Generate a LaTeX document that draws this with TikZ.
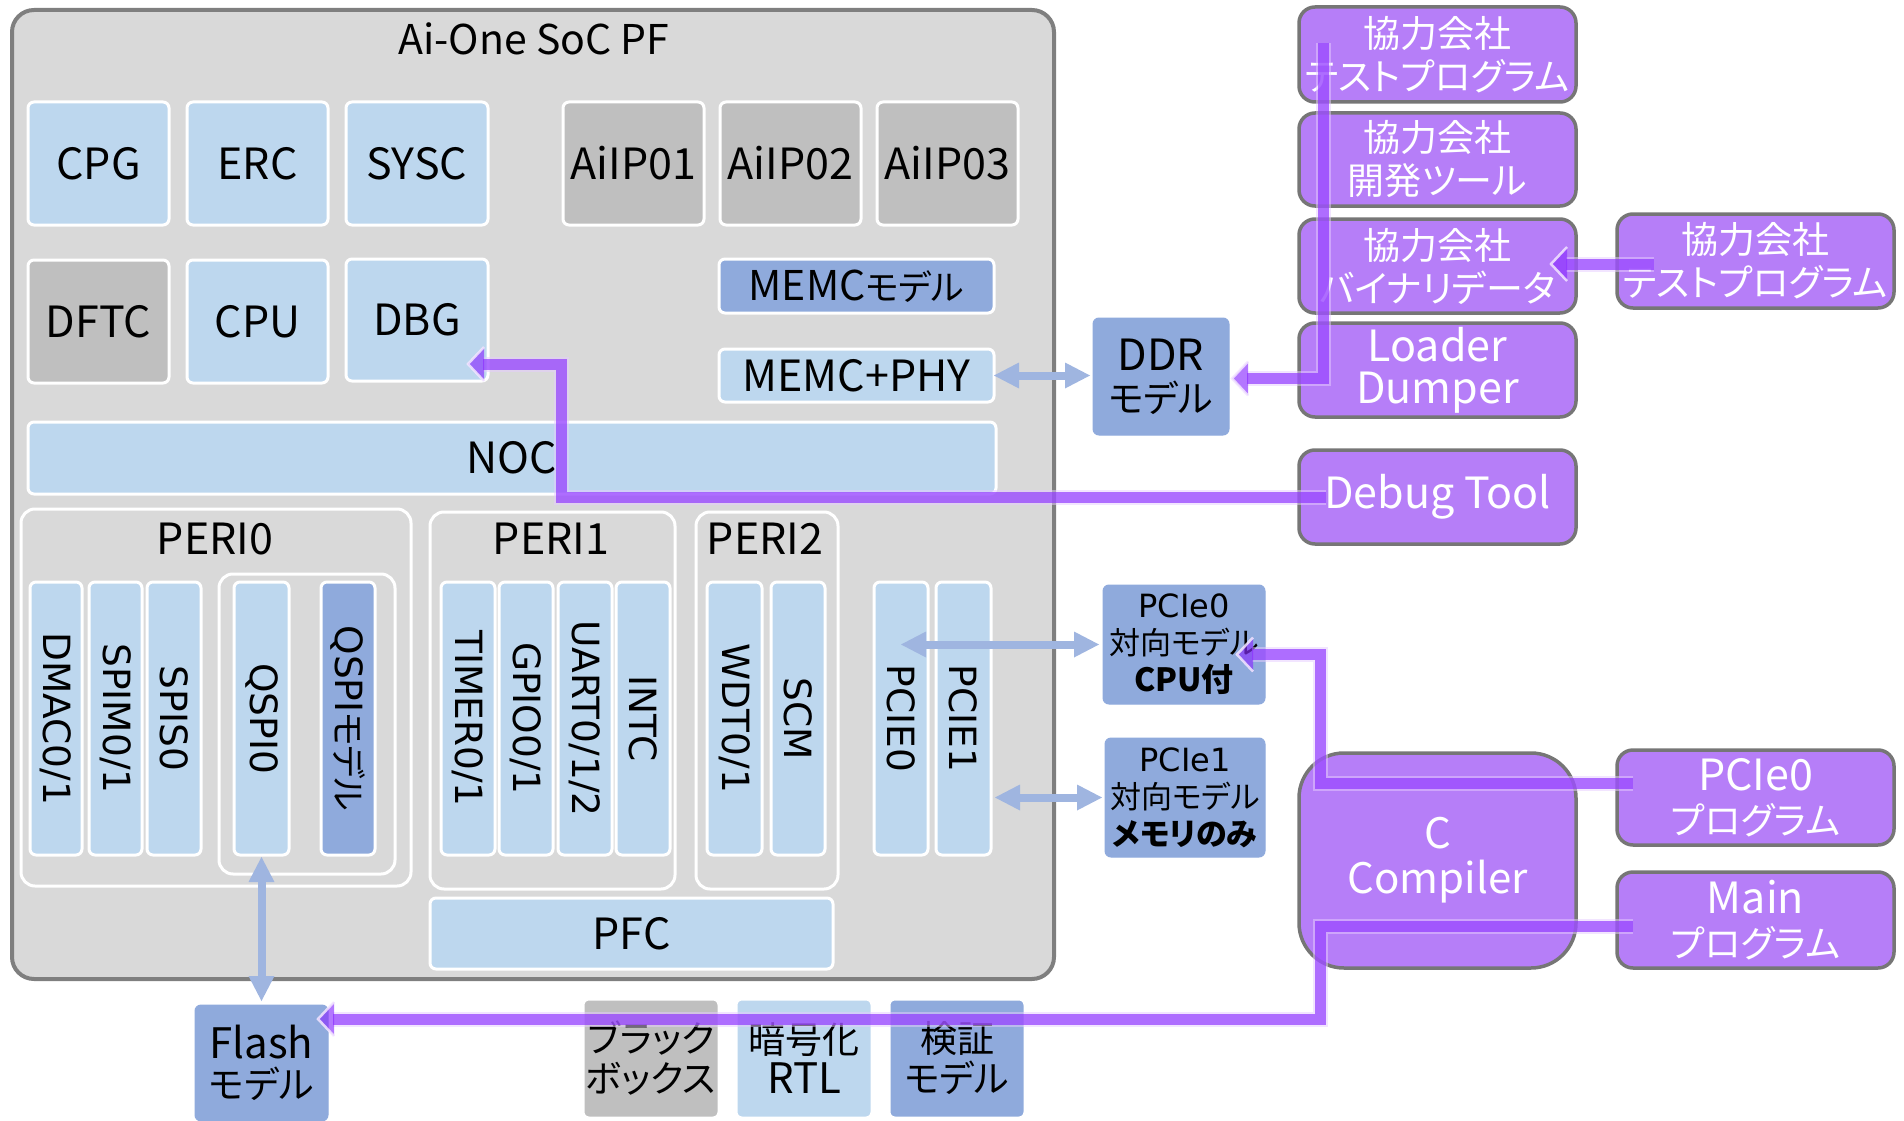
\documentclass[tikz,border=0pt]{standalone}
\usepackage{fontspec}
\setmainfont{Noto Sans CJK JP}[RawFeature=+palt]
\newfontfamily\vfont{DejaVu Sans}
\usetikzlibrary{calc,fit}

\definecolor{socgray}{HTML}{D9D9D9}
\definecolor{socedge}{HTML}{7F7F7F}
\definecolor{lblue}{HTML}{BDD7EE}
\definecolor{dblue}{HTML}{8FAADC}
\definecolor{gbox}{HTML}{BFBFBF}
\definecolor{pbox}{HTML}{B67EF8}
\definecolor{pedge}{HTML}{767676}
\definecolor{pline}{HTML}{8A2EFF}
\definecolor{pband}{HTML}{E6CCFF}
\definecolor{pheadline}{HTML}{F3E6FF}
\definecolor{barrow}{HTML}{9FB5E0}

% font sizes: Latin labels, Japanese labels
\newcommand\lsize{\fontsize{43}{42}\selectfont}
\newcommand\jsize{\fontsize{37}{43}\selectfont}
\newcommand\jp[1]{{\jsize #1}}
\newcommand\jpv[1]{{\rmfamily\fontsize{35}{40}\selectfont #1}}
% centred lines stacked at the current baseline skip
\newcommand\ml[1]{\vbox{\halign{\hfil##\hfil\cr#1\crcr}}}

% left-pointing head of a purple connector, tip at #1
\newcommand\pheadleft[1]{%
  \fill[phead] (#1) -- ++(16,-17) -- ++(0,34) -- cycle;
  \draw[pheadedge] ($(#1)+(16,-17)$) -- (#1) -- ($(#1)+(16,17)$);
}
% light-blue double arrows
\newcommand\bluehoriz[2]{%
  \draw[bshaft] ($(#1)+(20,0)$) -- ($(#2)+(-20,0)$);
  \fill[bhead] (#1) -- ++(25,-13) -- ++(0,26) -- cycle;
  \fill[bhead] (#2) -- ++(-25,-13) -- ++(0,26) -- cycle;
}
\newcommand\bluevert[2]{%
  \draw[bshaft] ($(#1)+(0,20)$) -- ($(#2)+(0,-20)$);
  \fill[bhead] (#1) -- ++(-13,25) -- ++(26,0) -- cycle;
  \fill[bhead] (#2) -- ++(-13,-25) -- ++(26,0) -- cycle;
}

\tikzset{
  every node/.style={inner sep=0pt, outer sep=0pt},
  soc/.style={draw=socedge, fill=socgray, line width=4pt, rounded corners=22pt},
  grp/.style={draw=white, fill=socgray, line width=3pt, rounded corners=14pt},
  blk/.style={draw=white, line width=3pt, rounded corners=6pt},
  lb/.style={blk, fill=lblue},
  gb/.style={blk, fill=gbox},
  db/.style={blk, fill=dblue},
  mdl/.style={draw=dblue, fill=dblue, line width=1pt, rounded corners=6pt},
  pb/.style={draw=pedge, fill=pbox, line width=3.5pt, rounded corners=16pt},
  txt/.style={font=\lsize, text=black},
  ptxt/.style={font=\jsize, text=white},
  vlab/.style={rotate=-90, font=\vfont\fontsize{37.5}{40}\selectfont, text=black},
  ttl/.style={font=\fontsize{41}{46}\selectfont, text=black},
  pconn/.style={line width=11pt, draw=pline, draw opacity=0.65,
    preaction={draw=pband, draw opacity=0.5, line width=15pt}},
  phead/.style={fill=pline, fill opacity=0.65},
  pheadedge/.style={draw=pheadline, draw opacity=0.85, line width=2.5pt},
  bshaft/.style={draw=barrow, line width=8pt},
  bhead/.style={fill=barrow},
}

\begin{document}
\begin{tikzpicture}[x=1pt,y=-1pt]
\useasboundingbox (0,0) rectangle (1904,1121);

% SoC platform frame
\node[soc, fit={(12,10)(1054,979)}] (soc) {};
\node[ttl] (title) at (534,39) {Ai-One SoC PF};

% top blocks
\node[lb, fit={(28,102)(169,225)}] (cpg) {};
\node[txt] (cpg-t) at (cpg) {CPG};
\node[lb, fit={(187,102)(328,225)}] (erc) {};
\node[txt] (erc-t) at (erc) {ERC};
\node[lb, fit={(346,102)(488,225)}] (sysc) {};
\node[txt] (sysc-t) at (sysc) {SYSC};
\node[gb, fit={(563,102)(704,225)}] (aiip1) {};
\node[txt] (aiip1-t) at (aiip1) {AiIP01};
\node[gb, fit={(720,102)(861,225)}] (aiip2) {};
\node[txt] (aiip2-t) at (aiip2) {AiIP02};
\node[gb, fit={(877,102)(1018,225)}] (aiip3) {};
\node[txt] (aiip3-t) at (aiip3) {AiIP03};
\node[gb, fit={(28,260)(169,383)}] (dftc) {};
\node[txt] (dftc-t) at (dftc) {DFTC};
\node[lb, fit={(187,260)(328,383)}] (cpu) {};
\node[txt] (cpu-t) at (cpu) {CPU};
\node[lb, fit={(346,259)(488,381)}] (dbg) {};
\node[txt] (dbg-t) at (dbg) {DBG};
\node[db, fit={(719,259)(994,313)}] (memcm) {};
\node[txt, font=\fontsize{41}{42}\selectfont] (memcm-t) at (memcm) {MEMC{\fontsize{35}{42}\selectfont モデル}};
\node[lb, fit={(719,349)(994,402)}] (memcphy) {};
\node[txt] (memcphy-t) at (memcphy) {MEMC+PHY};
\node[lb, fit={(28,422)(996,494)}] (noc) {};
\node[txt] (noc-t) at (noc) {NOC};

% peripheral groups
\node[grp, fit={(21,509)(411,886)}] (peri0) {};
\node[txt] (peri0-t) at (215,539) {PERI0};
\node[grp, fit={(219,574)(395,874)}] (qgrp) {};
\node[grp, fit={(430,512)(675,889)}] (peri1) {};
\node[txt] (peri1-t) at (551,539) {PERI1};
\node[grp, fit={(696,512)(838,889)}] (peri2) {};
\node[txt] (peri2-t) at (765,539) {PERI2};

% peripheral columns
\node[lb, fit={(30,582)(82,855)}] (dmac) {};
\node[vlab] (dmac-t) at (dmac) {DMAC0/1};
\node[lb, fit={(89,582)(142,855)}] (spim) {};
\node[vlab] (spim-t) at (spim) {SPIM0/1};
\node[lb, fit={(147,582)(201,855)}] (spis) {};
\node[vlab] (spis-t) at (spis) {SPIS0};
\node[lb, fit={(234,582)(289,855)}] (qspi0) {};
\node[vlab] (qspi0-t) at (qspi0) {QSPI0};
\node[db, fit={(321,582)(375,855)}] (qspim) {};
\node[vlab] (qspim-t) at (qspim) {QSPI\jpv{モデル}};
\node[lb, fit={(441,582)(495,855)}] (timer) {};
\node[vlab] (timer-t) at (timer) {TIMER0/1};
\node[lb, fit={(499,582)(553,855)}] (gpio) {};
\node[vlab] (gpio-t) at (gpio) {GPIO0/1};
\node[lb, fit={(558,582)(612,855)}] (uart) {};
\node[vlab] (uart-t) at (uart) {UART0/1/2};
\node[lb, fit={(616,582)(670,855)}] (intc) {};
\node[vlab] (intc-t) at (intc) {INTC};
\node[lb, fit={(707,582)(762,855)}] (wdt) {};
\node[vlab] (wdt-t) at (wdt) {WDT0/1};
\node[lb, fit={(771,582)(825,855)}] (scm) {};
\node[vlab] (scm-t) at (scm) {SCM};
\node[lb, fit={(874,582)(928,855)}] (pcie0) {};
\node[vlab] (pcie0-t) at (pcie0) {PCIE0};
\node[lb, fit={(936,582)(991,855)}] (pcie1) {};
\node[vlab] (pcie1-t) at (pcie1) {PCIE1};

\node[lb, fit={(430,898)(833,969)}] (pfc) {};
\node[txt] (pfc-t) at (pfc) {PFC};

% external models
\node[mdl, fit={(1093,318)(1229,435)}] (ddr) {};
\node[txt] (ddr-t) at (ddr) {\ml{DDR\cr\jp{モデル}}};
\node[mdl, fit={(1103,585)(1265,704)}] (pc0) {};
\node[txt, font=\fontsize{32}{37}\selectfont] (pc0-t) at (pc0)
  {\ml{{\vfont PCIe0}\cr{\fontsize{31}{37}\selectfont 対向モデル}\cr{\bfseries CPU付}}};
\node[mdl, fit={(1105,738)(1265,857)}] (pc1) {};
\node[txt, font=\fontsize{32}{37}\selectfont] (pc1-t) at (pc1)
  {\ml{{\vfont PCIe1}\cr{\fontsize{31}{37}\selectfont 対向モデル}\cr{\fontsize{31}{37}\selectfont\bfseries メモリのみ}}};
\node[mdl, fit={(195,1005)(328,1121)}] (flash) {};
\node[txt, font=\fontsize{42}{40}\selectfont] (flash-t) at (flash) {\ml{Flash\cr\jp{モデル}}};

% legend
\node[gb, fit={(583,999)(719,1118)}] (lgbb) {};
\node[txt, font=\fontsize{37}{40}\selectfont] (lgbb-t) at (lgbb) {\ml{ブラック\cr ボックス}};
\node[lb, fit={(736,999)(872,1118)}] (lgrtl) {};
\node[txt, font=\fontsize{42}{40}\selectfont] (lgrtl-t) at (lgrtl) {\ml{\jp{暗号化}\cr RTL}};
\node[db, fit={(889,999)(1025,1118)}] (lgmdl) {};
\node[txt, font=\fontsize{37}{40}\selectfont] (lgmdl-t) at (lgmdl) {\ml{検証\cr モデル}};

% software side
\node[pb, fit={(1299,7)(1576,102)}] (tp1) {};
\node[ptxt] (tp1-t) at (tp1) {\ml{協力会社\cr テストプログラム}};
\node[pb, fit={(1299,113)(1576,206)}] (dev) {};
\node[ptxt] (dev-t) at (dev) {\ml{協力会社\cr 開発ツール}};
\node[pb, fit={(1299,219)(1576,313)}] (bin) {};
\node[ptxt] (bin-t) at (bin) {\ml{協力会社\cr バイナリデータ}};
\node[pb, fit={(1299,323)(1576,417)}] (ldr) {};
\node[ptxt, font=\fontsize{43}{42}\selectfont] (ldr-t) at (ldr) {\ml{Loader\cr Dumper}};
\node[pb, fit={(1299,450)(1576,544)}] (dbgt) {};
\node[ptxt, font=\lsize] (dbgt-t) at (dbgt) {Debug Tool};
\node[pb, fit={(1617,214)(1894,308)}] (tp2) {};
\node[ptxt] (tp2-t) at (tp2) {\ml{協力会社\cr テストプログラム}};
\node[pb, rounded corners=45pt, fit={(1299,753)(1576,968)}] (cc) {};
\node[ptxt, font=\fontsize{42}{45}\selectfont] (cc-t) at (cc) {\ml{C\cr Compiler}};
\node[pb, fit={(1617,750)(1894,845)}] (pp) {};
\node[ptxt, font=\fontsize{37}{44}\selectfont] (pp-t) at (pp) {\ml{{\lsize PCIe0}\cr プログラム}};
\node[pb, fit={(1617,872)(1894,968)}] (mp) {};
\node[ptxt, font=\fontsize{37}{44}\selectfont] (mp-t) at (mp) {\ml{{\lsize Main}\cr プログラム}};

% hardware interfaces
\coordinate (m1) at (memcphy.east);
\coordinate (m2) at ($(ddr.west |- memcphy.east)+(-3,0)$);
\bluehoriz{m1}{m2}
\coordinate (p0a) at (pcie0 |- pc0.west);
\coordinate (p0b) at ($(pc0.west)+(-4,0)$);
\bluehoriz{p0a}{p0b}
\coordinate (p1a) at ($(pcie1.east |- pc1.west)+(4,0)$);
\coordinate (p1b) at ($(pc1.west)+(-3,0)$);
\bluehoriz{p1a}{p1b}
\coordinate (qa) at ($(qspi0.south)+(0,2)$);
\coordinate (qb) at ($(qspi0.south |- flash.north)+(0,-4)$);
\bluevert{qa}{qb}

% software flows
\coordinate (ddrtip) at ($(ddr.east)+(3,2)$);
\draw[pconn] ([shift={(24,36)}]tp1.north west) |- ($(ddrtip)+(15,0)$);
\pheadleft{ddrtip}

\coordinate (dbgtip) at ($(dbg.east)+(-20,44)$);
\draw[pconn] ($(dbgt.west)+(27,0)$) -| ($(dbgtip)+(93,0)$) -- ($(dbgtip)+(15,0)$);
\pheadleft{dbgtip}

\coordinate (bintip) at ($(bin.east)+(-25,-2)$);
\coordinate (tp2s) at ($(tp2.west)+(37,0)$);
\draw[pconn] (tp2s |- bintip) -- ($(bintip)+(15,0)$);
\pheadleft{bintip}

\coordinate (pctip) at ($(pc0.east)+(-28,10)$);
\draw[pconn] ($(pp.west)+(16,-14)$) -| ($(pctip)+(83,0)$) -- ($(pctip)+(15,0)$);
\pheadleft{pctip}

\coordinate (fltip) at ($(flash.north east)+(-10,14)$);
\draw[pconn] ($(mp.west)+(16,6)$) -| ($(fltip)+(1002,0)$) -- ($(fltip)+(15,0)$);
\pheadleft{fltip}
\end{tikzpicture}
\end{document}
